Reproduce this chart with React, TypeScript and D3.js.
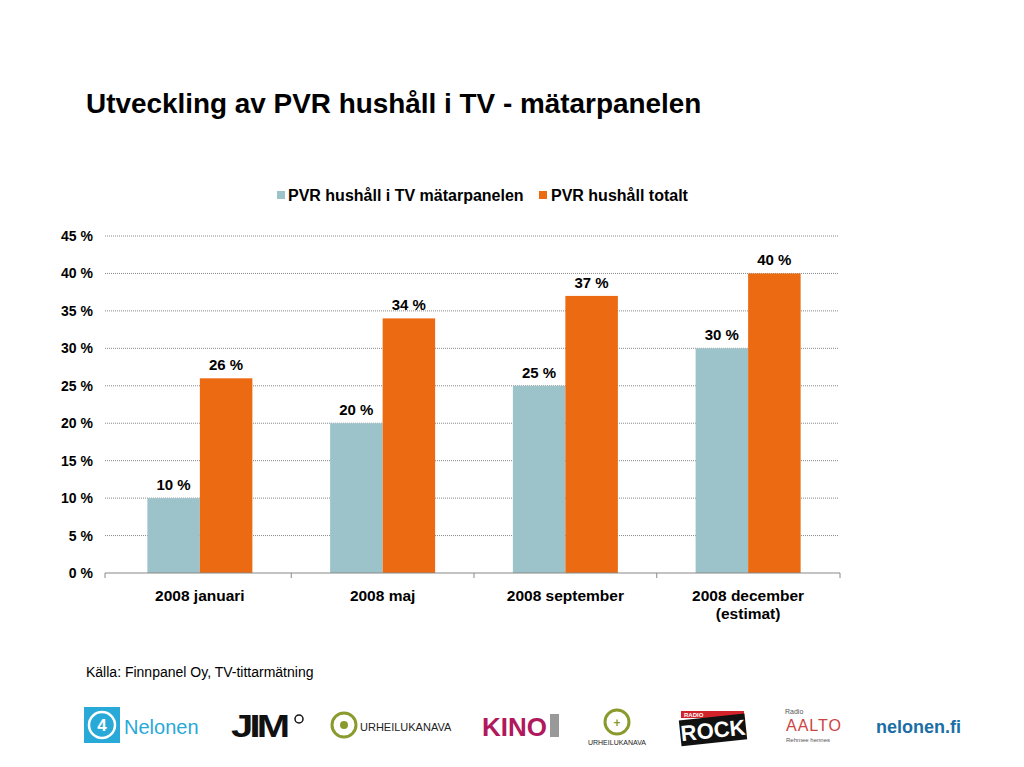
import React from "react";
import * as d3 from "d3";

const categories = ["2008 januari", "2008 maj", "2008 september", "2008 december|(estimat)"];
const seriesNames = ["PVR hushåll i TV mätarpanelen", "PVR hushåll totalt"];
const panelValues = [10, 20, 25, 30];
const totalValues = [26, 34, 37, 40];
const yTicks = [0, 5, 10, 15, 20, 25, 30, 35, 40, 45];
const colors = ["#9DC3CA", "#EC6A12"];

export default function App() {
  const W = 1024, H = 767;
  const left = 105, right = 840, top = 236, bottom = 573;
  const y = d3.scaleLinear().domain([0, 45]).range([bottom, top]);
  const x0 = d3.scaleBand<string>().domain(categories).range([108.5, 839.5]).paddingInner(0).paddingOuter(0);
  const x1 = d3.scaleBand<string>().domain(["0", "1"]).range([0, 105]);
  const bw = x0.bandwidth();
  const font = "Arial, 'Liberation Sans', sans-serif";
  const series = [panelValues, totalValues];

  return (
    <svg width={W} height={H} style={{ position: "absolute", left: 0, top: 0 }} fontFamily={font}>
      <rect width={W} height={H} fill="#fff" />
      <text x={86} y={113} fontSize={27.9} fontWeight="bold" fill="#000">Utveckling av PVR hushåll i TV - mätarpanelen</text>

      {/* legend */}
      <rect x={277} y={191} width={8} height={8} fill={colors[0]} />
      <text x={288} y={201} fontSize={16} fontWeight="bold">{seriesNames[0]}</text>
      <rect x={539} y={191} width={8} height={8} fill={colors[1]} />
      <text x={551} y={201} fontSize={16} fontWeight="bold">{seriesNames[1]}</text>

      {/* grid */}
      {yTicks.map((t) => (
        <g key={t}>
          {t > 0 && (
            <line x1={left} x2={838} y1={y(t)} y2={y(t)} stroke="#888" strokeWidth={1} strokeDasharray="1,1" />
          )}
          <text x={93} y={y(t) + 5} textAnchor="end" fontSize={14} fontWeight="bold">{t} %</text>
        </g>
      ))}

      {/* bars */}
      {categories.map((c, i) => {
        const cx = x0(c)! + bw / 2 - 52.5;
        return (
          <g key={c}>
            {series.map((s, j) => (
              <g key={j}>
                <rect x={cx + x1(String(j))!} y={y(s[i])} width={x1.bandwidth()} height={bottom - y(s[i])} fill={colors[j]} />
                <text x={cx + x1(String(j))! + x1.bandwidth() / 2} y={y(s[i]) - 8} textAnchor="middle" fontSize={15} fontWeight="bold">{s[i]} %</text>
              </g>
            ))}
          </g>
        );
      })}

      {/* x axis */}
      <line x1={left} x2={right} y1={bottom} y2={bottom} stroke="#888" strokeWidth={1.2} />
      {[0, 1, 2, 3, 4].map((k) => {
        const xx = k === 0 ? left : k === 4 ? right : x0(categories[k])!;
        return <line key={k} x1={xx} x2={xx} y1={bottom} y2={bottom + 5} stroke="#888" />;
      })}
      {categories.map((c) => {
        const lines = c.split("|");
        return (
          <text key={c} x={x0(c)! + bw / 2} textAnchor="middle" fontSize={15.5} fontWeight="bold">
            {lines.map((l, k) => (
              <tspan key={k} x={x0(c)! + bw / 2} y={601 + k * 18}>{l}</tspan>
            ))}
          </text>
        );
      })}

      <text x={86} y={677} fontSize={14}>Källa: Finnpanel Oy, TV-tittarmätning</text>

      {/* logos */}
      <g>
        <rect x={84} y={707} width={36} height={36} fill="#29A9D8" />
        <circle cx={102} cy={725} r={13} fill="none" stroke="#fff" strokeWidth={2.5} />
        <text x={102} y={731} textAnchor="middle" fontSize={17} fontWeight="bold" fill="#fff">4</text>
        <text x={124} y={734} fontSize={20} fill="#29A9D8">Nelonen</text>

        <text x={231} y={737} fontSize={32} fontWeight="900" fill="#111" letterSpacing={-3} transform="translate(231 0) scale(1.25 1) translate(-231 0)">JIM</text>
        <circle cx={299} cy={719} r={4} fill="none" stroke="#111" strokeWidth={1.5} />

        <circle cx={344} cy={725} r={12} fill="none" stroke="#8A9A2C" strokeWidth={3} />
        <circle cx={344} cy={725} r={4} fill="#8A9A2C" />
        <text x={360} y={731} fontSize={11} fill="#222">URHEILUKANAVA</text>

        <text x={482} y={736} fontSize={26} fontWeight="bold" fill="#B0195D">KINO</text>
        <rect x={550} y={714} width={9} height={23} fill="#999" />

        <circle cx={617} cy={722} r={12} fill="none" stroke="#8A9A2C" strokeWidth={3} />
        <text x={617} y={727} textAnchor="middle" fontSize={12} fontWeight="bold" fill="#8A9A2C">+</text>
        <text x={617} y={745} textAnchor="middle" fontSize={7} fill="#222">URHEILUKANAVA</text>

        <rect x={681} y={711} width={63} height={7} fill="#D2232A" />
        <text x={684} y={717} fontSize={6} fill="#fff" fontWeight="bold">RADIO</text>
        <g transform="rotate(-6 712 730)">
          <rect x={680} y={717} width={66} height={26} fill="#111" />
          <text x={713} y={738} textAnchor="middle" fontSize={22} fontWeight="900" fill="#fff">ROCK</text>
        </g>

        <text x={785} y={714} fontSize={7} fill="#555">Radio</text>
        <text x={786} y={731} fontSize={16} fill="#C44" letterSpacing={1}>AALTO</text>
        <text x={786} y={742} fontSize={6} fill="#555">Rehmee hennes</text>

        <text x={876} y={733} fontSize={18} fontWeight="bold" fill="#1B6EA3">nelonen.fi</text>
      </g>
    </svg>
  );
}
